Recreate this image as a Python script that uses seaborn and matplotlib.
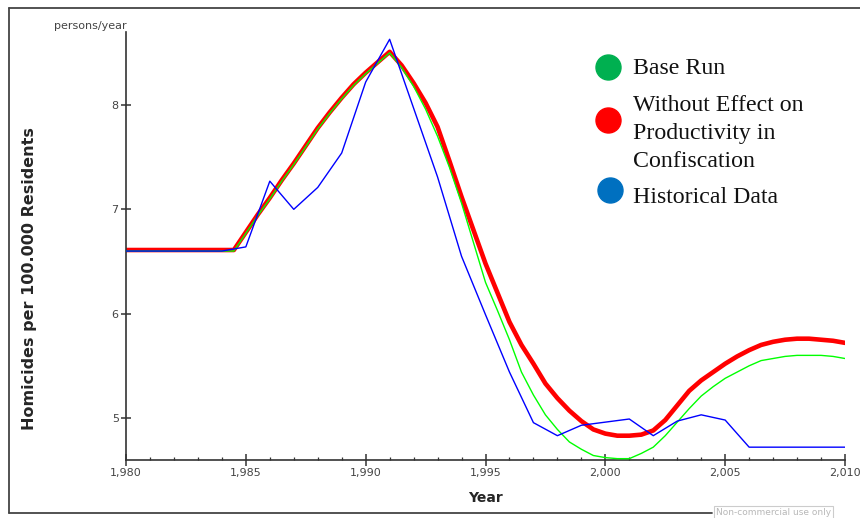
import numpy as np
import pandas as pd
import matplotlib
matplotlib.use("Agg")
import matplotlib.pyplot as plt
from matplotlib.lines import Line2D
from matplotlib.ticker import FuncFormatter, MultipleLocator
import seaborn as sns

# ---- data -------------------------------------------------------------
sim_years = np.arange(1980, 2010.01, 0.5)

base_run = [6.60] * 10 + [
    6.77, 6.94, 7.10, 7.27, 7.43, 7.60, 7.77, 7.92, 8.06, 8.19, 8.30, 8.40, 8.50,
    8.36, 8.18, 7.96, 7.70, 7.40, 7.06, 6.68, 6.30, 6.03, 5.75, 5.44, 5.22, 5.03,
    4.89, 4.77, 4.70, 4.64, 4.62, 4.61, 4.61,
    4.66, 4.72, 4.83, 4.96, 5.09, 5.21, 5.30, 5.38, 5.44, 5.50, 5.55, 5.57, 5.59,
    5.60, 5.60, 5.60, 5.59, 5.57,
]

without_effect = [6.61] * 10 + [
    6.78, 6.95, 7.11, 7.28, 7.44, 7.61, 7.78, 7.93, 8.07, 8.20, 8.31, 8.41, 8.51,
    8.38, 8.21, 8.02, 7.79, 7.46, 7.12, 6.80, 6.48, 6.20, 5.92, 5.70, 5.52, 5.33,
    5.19, 5.07, 4.97, 4.89, 4.85, 4.83, 4.83,
    4.84, 4.88, 4.98, 5.12, 5.26, 5.36, 5.44, 5.52, 5.59, 5.65, 5.70, 5.73, 5.75,
    5.76, 5.76, 5.75, 5.74, 5.72,
]

hist_years = list(range(1980, 2011))
historical = [
    6.60, 6.60, 6.60, 6.60, 6.60, 6.64, 7.27, 7.00, 7.21, 7.54, 8.22, 8.63,
    7.97, 7.31, 6.55, 5.99, 5.44, 4.955, 4.83, 4.93, 4.96, 4.99, 4.83, 4.97,
    5.03, 4.98, 4.72, 4.72, 4.72, 4.72, 4.72,
]

line_colors = ["#00FF00", "#FF0000", "#0000FF"]
legend_colors = ["#00B050", "#FF0000", "#0070C0"]

sim_df = pd.DataFrame({"Year": sim_years, "base": base_run, "without": without_effect})
hist_df = pd.DataFrame({"Year": hist_years, "hist": historical})

# ---- figure -----------------------------------------------------------
sns.set_style("white")
W, H = 860, 518
fig = plt.figure(figsize=(W / 100, H / 100), dpi=100)


def fx(px):
    return px / W


def fy(py):
    return 1 - py / H


ax = fig.add_axes([fx(126), fy(460), fx(845) - fx(126), fy(32) - fy(460)])

sns.lineplot(data=sim_df, x="Year", y="without", ax=ax, color=line_colors[1],
             linewidth=3.3, estimator=None, zorder=2)
sns.lineplot(data=sim_df, x="Year", y="base", ax=ax, color=line_colors[0],
             linewidth=1.0, estimator=None, zorder=3)
sns.lineplot(data=hist_df, x="Year", y="hist", ax=ax, color=line_colors[2],
             linewidth=1.0, estimator=None, zorder=4)

ax.set_xlim(1980, 2010)
ax.set_ylim(4.597, 8.70)

spine_col = "#333333"
for side in ("top", "right"):
    ax.spines[side].set_visible(False)
for side in ("left", "bottom"):
    ax.spines[side].set_color(spine_col)
    ax.spines[side].set_linewidth(1.2)

ax.xaxis.set_major_locator(MultipleLocator(5))
ax.xaxis.set_minor_locator(MultipleLocator(1))
ax.yaxis.set_major_locator(MultipleLocator(1))
ax.xaxis.set_major_formatter(FuncFormatter(lambda v, p: f"{v:,.0f}"))
ax.yaxis.set_major_formatter(FuncFormatter(lambda v, p: f"{v:.0f}"))

ax.tick_params(axis="x", which="major", direction="inout", length=8, width=1.1,
               color=spine_col, labelsize=8, labelcolor="#444444", pad=2)
ax.tick_params(axis="x", which="minor", direction="in", length=2.5, width=0.9,
               color=spine_col)
ax.tick_params(axis="y", which="major", direction="inout", length=6.5, width=1.1,
               color=spine_col, labelsize=8, labelcolor="#444444", pad=2)
ax.tick_params(left=True, bottom=True, which="both")

ax.set_xlabel("Year", fontsize=10, fontweight="bold", labelpad=9)
ax.set_ylabel("")

fig.text(fx(30), fy(279), "Homicides per 100.000 Residents", rotation=90,
         fontsize=11.5, fontweight="bold", ha="center", va="center")
fig.text(fx(126.5), fy(29), "persons/year", fontsize=8, color="#444444",
         ha="right", va="baseline")

# ---- legend (dots + serif text) ----------------------------------------
serif = "Liberation Serif"
fs_leg = 17.2
dot_pos = [(608, 67), (608, 120), (610, 190)]
text_lines = [
    [(74, "Base Run")],
    [(111, "Without Effect on"), (139, "Productivity in"), (167, "Confiscation")],
    [(203, "Historical Data")],
]
for (dx, dy), col, lines in zip(dot_pos, legend_colors, text_lines):
    fig.add_artist(Line2D([fx(dx)], [fy(dy)], marker="o", markersize=18,
                          markerfacecolor=col, markeredgecolor=col,
                          linestyle="none", transform=fig.transFigure))
    for by, txt in lines:
        fig.text(fx(633), fy(by), txt, fontsize=fs_leg, family=serif,
                 ha="left", va="baseline", color="#111111")

# ---- outer frame -------------------------------------------------------
frame_kw = dict(color="#444444", linewidth=1.3, transform=fig.transFigure)
fig.add_artist(Line2D([fx(9), fx(9)], [fy(8), fy(513)], **frame_kw))
fig.add_artist(Line2D([fx(9), fx(860)], [fy(8), fy(8)], **frame_kw))
fig.add_artist(Line2D([fx(9), fx(712)], [fy(513), fy(513)], **frame_kw))

fig.text(fx(716), fy(508), "Non-commercial use only", fontsize=6.5,
         color="#b8b8b8", ha="left", va="top",
         bbox=dict(boxstyle="square,pad=0.2", facecolor="white",
                   edgecolor="#cccccc", linewidth=0.8))

fig.savefig("out.png", dpi=100)
